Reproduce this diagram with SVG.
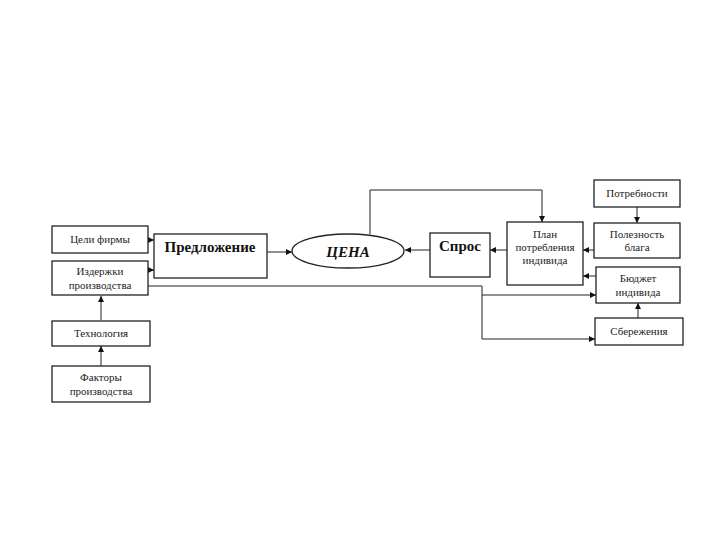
<svg xmlns="http://www.w3.org/2000/svg" width="720" height="540" viewBox="0 0 720 540">
<defs>
<marker id="ah" viewBox="0 0 10 10" refX="10" refY="5" markerWidth="6" markerHeight="6" orient="auto" markerUnits="userSpaceOnUse">
<path d="M0,0 L10,5 L0,10 z" fill="#111"/>
</marker>
<style>
.box{fill:#fff;stroke:#222;stroke-width:1.3}
.t{font-family:"Liberation Serif","Times New Roman",serif;font-size:11px;fill:#222;text-anchor:middle}
.b{font-family:"Liberation Serif","Times New Roman",serif;font-size:15px;font-weight:bold;fill:#111;text-anchor:middle}
.c{fill:none;stroke:#222;stroke-width:1}
</style>
</defs>
<rect width="720" height="540" fill="#fff"/>
<g id="connectors">
<line class="c" x1="148" y1="240" x2="154" y2="240" marker-end="url(#ah)"/>
<line class="c" x1="148" y1="270" x2="154" y2="270" marker-end="url(#ah)"/>
<line class="c" x1="101" y1="320" x2="101" y2="296" marker-end="url(#ah)"/>
<line class="c" x1="101" y1="366" x2="101" y2="346" marker-end="url(#ah)"/>
<line class="c" x1="267" y1="252" x2="292" y2="252" marker-end="url(#ah)"/>
<line class="c" x1="430" y1="250" x2="405" y2="250" marker-end="url(#ah)"/>
<line class="c" x1="507" y1="250" x2="490" y2="250" marker-end="url(#ah)"/>
<polyline class="c" points="370,234 370,190 542,190 542,222" marker-end="url(#ah)"/>
<line class="c" x1="637" y1="207" x2="637" y2="223" marker-end="url(#ah)"/>
<line class="c" x1="594" y1="250" x2="583" y2="250" marker-end="url(#ah)"/>
<line class="c" x1="596" y1="276" x2="583" y2="276" marker-end="url(#ah)"/>
<line class="c" x1="638" y1="318" x2="638" y2="303" marker-end="url(#ah)"/>
<polyline class="c" points="148,286 482,286 482,339 595,339" marker-end="url(#ah)"/>
<line class="c" x1="482" y1="295" x2="596" y2="295" marker-end="url(#ah)"/>
</g>
<g id="celi-firmy"><rect class="box" x="52" y="226" width="96" height="27"/><text class="t" x="100" y="243">Цели фирмы</text></g>
<g id="izderzhki"><rect class="box" x="52" y="261" width="96" height="34"/><text class="t" x="100" y="275">Издержки</text><text class="t" x="100" y="289">производства</text></g>
<g id="tekhnologiya"><rect class="box" x="52" y="321" width="98" height="25"/><text class="t" x="101" y="337">Технология</text></g>
<g id="faktory"><rect class="box" x="52" y="366" width="98" height="36"/><text class="t" x="101" y="381">Факторы</text><text class="t" x="101" y="395">производства</text></g>
<g id="predlozhenie"><rect class="box" x="154" y="234" width="113" height="44"/><text class="b" x="210" y="252">Предложение</text></g>
<g id="cena"><ellipse class="box" cx="348" cy="251" rx="56" ry="17"/><text class="b" x="348" y="257" font-style="italic" font-size="17">ЦЕНА</text></g>
<g id="spros"><rect class="box" x="430" y="233" width="60" height="44"/><text class="b" x="460" y="251">Спрос</text></g>
<g id="plan"><rect class="box" x="507" y="222" width="76" height="63"/><text class="t" x="545" y="238">План</text><text class="t" x="545" y="251">потребления</text><text class="t" x="545" y="264">индивида</text></g>
<g id="potrebnosti"><rect class="box" x="594" y="180" width="86" height="27"/><text class="t" x="637" y="197">Потребности</text></g>
<g id="poleznost"><rect class="box" x="594" y="223" width="86" height="35"/><text class="t" x="637" y="238">Полезность</text><text class="t" x="637" y="251">блага</text></g>
<g id="byudzhet"><rect class="box" x="596" y="267" width="84" height="36"/><text class="t" x="638" y="282">Бюджет</text><text class="t" x="638" y="296">индивида</text></g>
<g id="sberezheniya"><rect class="box" x="595" y="318" width="88" height="27"/><text class="t" x="639" y="335">Сбережения</text></g>
</svg>
